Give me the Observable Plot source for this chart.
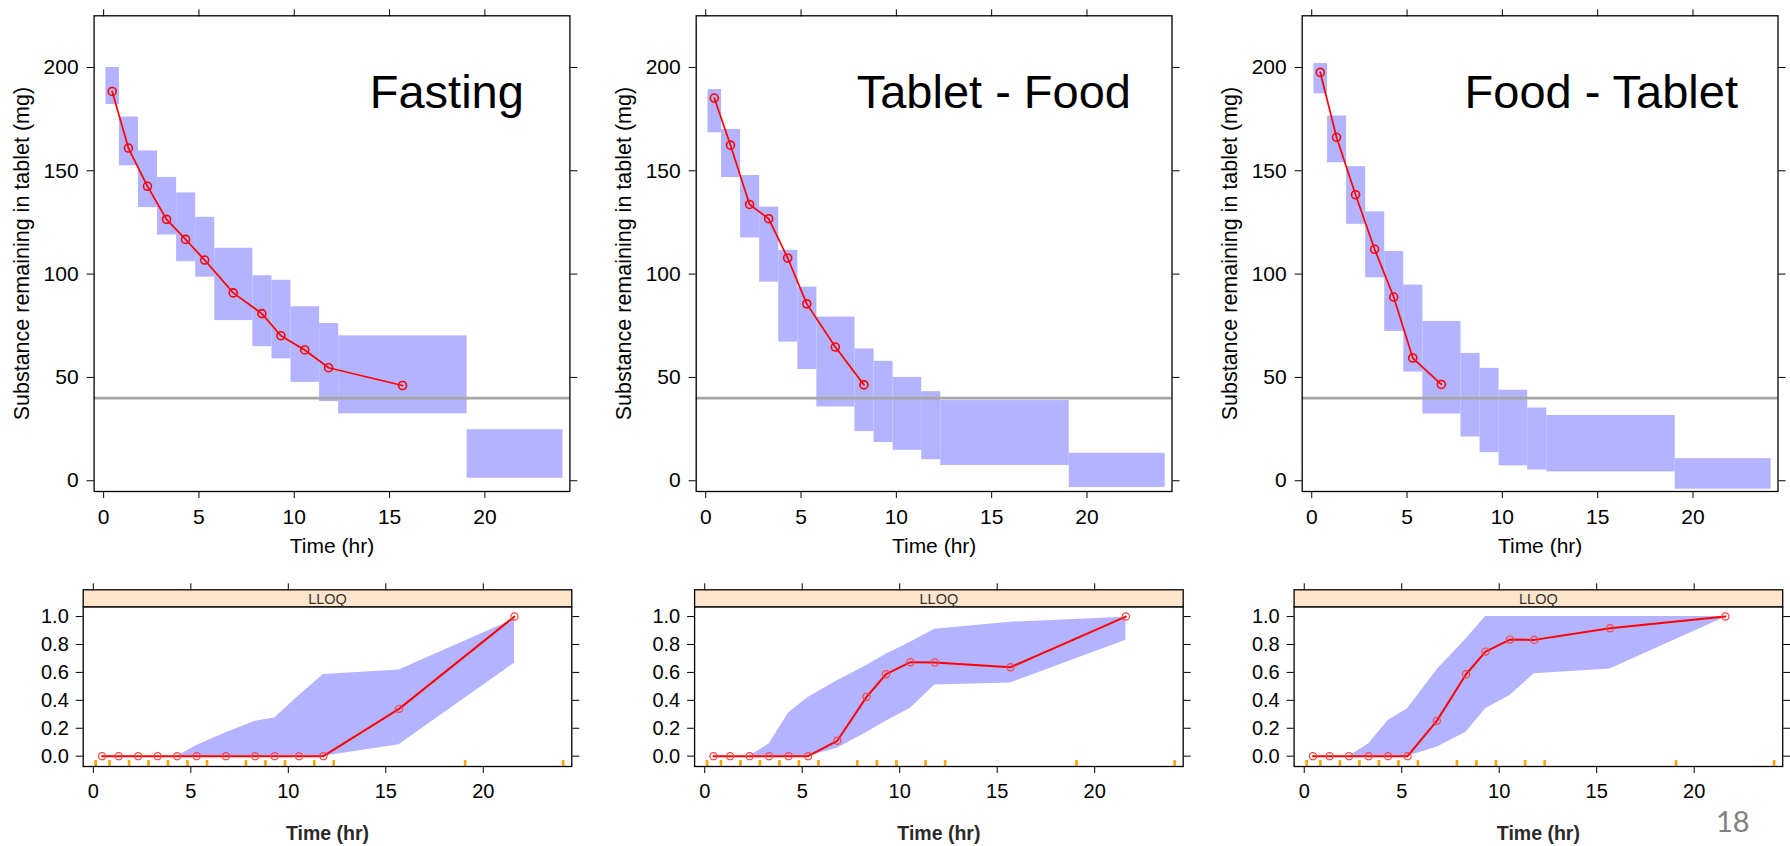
<!DOCTYPE html>
<html>
<head>
<meta charset="utf-8">
<script src="https://cdn.jsdelivr.net/npm/d3@7"></script>
<script src="https://cdn.jsdelivr.net/npm/@observablehq/plot@0.6"></script>
<style>
html, body { margin: 0; padding: 0; background: #ffffff; overflow: hidden; }
#root { position: relative; width: 1790px; height: 846px; }
#page { position: absolute; left: 1716px; top: 806px; font-family: Lato, "Open Sans", sans-serif; font-size: 29px; line-height: 1; color: #808080; }
</style>
</head>
<body>
<div id="root"><div id="page">18</div></div>
<script>
// ---------------- data ----------------
const panelNames = ["Fasting", "Tablet - Food", "Food - Tablet"];
const xLabel = "Time (hr)";
const yLabelTop = "Substance remaining in tablet (mg)";
const stripLabel = "LLOQ";
const pageNumber = "18";

const xTicks = [0, 5, 10, 15, 20];
const yTicksTop = [0, 50, 100, 150, 200];
const yTicksBottom = [0, 0.2, 0.4, 0.6, 0.8, 1.0];
const lloqLevel = 40;

// time-bin boundaries (hr)
const binEdges = [0.12, 0.83, 1.83, 2.83, 3.83, 4.83, 5.83, 7.83, 8.83, 9.83, 11.33, 12.33, 19.07, 24.1];
// observation time per bin (hr)
const obsTime = [0.45, 1.3, 2.3, 3.3, 4.3, 5.3, 6.8, 8.3, 9.3, 10.55, 11.8, 15.68, 21.6];

// top: observed median amount remaining (mg), only bins above LLOQ
const fastingMedian = [188.4, 161.0, 142.5, 126.5, 116.8, 106.8, 90.9, 80.9, 70.2, 63.3, 54.7, 46.1];
const tabletFoodMedian = [185.2, 162.4, 133.7, 126.8, 107.8, 85.6, 64.7, 46.4];
const foodTabletMedian = [197.6, 166.2, 138.4, 112.0, 88.9, 59.4, 46.6];

// top: simulated prediction interval per bin (mg)
const fastingPiHigh = [200.0, 176.0, 159.6, 146.8, 139.3, 127.5, 112.5, 99.2, 97.0, 84.2, 76.1, 70.1, 24.7];
const fastingPiLow = [182.1, 152.4, 132.2, 118.9, 106.0, 98.5, 77.5, 64.9, 59.0, 47.6, 38.3, 32.4, 1.2];
const tabletFoodPiHigh = [189.3, 170.0, 147.7, 132.4, 111.5, 93.7, 79.2, 63.8, 57.8, 50.0, 43.1, 38.8, 13.3];
const tabletFoodPiLow = [168.4, 146.7, 117.5, 96.1, 67.1, 53.8, 35.7, 23.8, 18.5, 14.7, 10.2, 7.4, -3.3];
const foodTabletPiHigh = [201.9, 176.5, 152.0, 130.1, 111.0, 94.7, 77.1, 61.6, 54.4, 43.8, 35.2, 31.6, 10.7];
const foodTabletPiLow = [187.2, 153.9, 124.1, 98.2, 72.3, 52.6, 32.3, 21.2, 13.6, 7.2, 5.2, 4.3, -4.1];

// bottom: fraction below LLOQ (observed) and simulated interval
const fastingBlqFrac = [0, 0, 0, 0, 0, 0, 0, 0, 0, 0, 0, 0.339, 1.0];
const fastingBlqHigh = [0, 0, 0, 0, 0, 0.076, 0.167, 0.25, 0.274, 0.433, 0.585, 0.618, 0.98];
const fastingBlqLow = [0, 0, 0, 0, 0, 0, 0, 0, 0, 0, 0, 0.081, 0.666];
const tabletFoodBlqFrac = [0, 0, 0, 0, 0, 0, 0.110, 0.425, 0.587, 0.673, 0.671, 0.637, 1.0];
const tabletFoodBlqHigh = [0, 0, 0, 0.088, 0.31, 0.42, 0.54, 0.65, 0.73, 0.816, 0.91, 0.96, 0.995];
const tabletFoodBlqLow = [0, 0, 0, 0, 0, 0, 0.057, 0.17, 0.25, 0.344, 0.51, 0.525, 0.83];
const foodTabletBlqFrac = [0, 0, 0, 0, 0, 0, 0.253, 0.587, 0.749, 0.835, 0.833, 0.916, 1.0];
const foodTabletBlqHigh = [0, 0, 0, 0.088, 0.255, 0.339, 0.618, 0.84, 1.0, 1.0, 1.0, 1.0, 1.0];
const foodTabletBlqLow = [0, 0, 0, 0, 0, 0, 0.064, 0.172, 0.339, 0.434, 0.59, 0.625, 0.995];

// ---------------- layout ----------------
const W = 1790;
const FONT = "'Liberation Sans', Arial, Helvetica, sans-serif";
const BLUE = "#B3B3FF";
const medians = [fastingMedian, tabletFoodMedian, foodTabletMedian];
const piHigh = [fastingPiHigh, tabletFoodPiHigh, foodTabletPiHigh];
const piLow = [fastingPiLow, tabletFoodPiLow, foodTabletPiLow];
const blqFrac = [fastingBlqFrac, tabletFoodBlqFrac, foodTabletBlqFrac];
const blqHigh = [fastingBlqHigh, tabletFoodBlqHigh, foodTabletBlqHigh];
const blqLow = [fastingBlqLow, tabletFoodBlqLow, foodTabletBlqLow];

const topLeft = [93.6, 695.7, 1301.7];
const titleDx = [-46, -41, -40];
const topFrameW = 475.8;
const topH = 575, topMT = 15.3, topMB = 84;
const botLeft = [82.7, 694.1, 1293.6];
const botFrameW = 488.6;
const botTop = 575, botH = 271, botMT = 31.3, botMB = 80;
const botFrameH = botH - botMT - botMB;

const root = document.getElementById("root");
function place(svg, top) {
  svg.style.position = "absolute";
  svg.style.left = "0px";
  svg.style.top = top + "px";
  root.appendChild(svg);
}
const blank = () => "";

function topPanel(i) {
  const bins = binEdges.slice(0, -1).map((x1, j) => ({x1, x2: binEdges[j + 1], lo: piLow[i][j], hi: piHigh[i][j]}));
  const med = medians[i].map((v, j) => ({t: obsTime[j], v}));
  return Plot.plot({
    width: W, height: topH,
    marginLeft: topLeft[i], marginRight: W - topLeft[i] - topFrameW, marginTop: topMT, marginBottom: topMB,
    x: {domain: [-0.5, 24.46], axis: null},
    y: {domain: [-5.2, 225], axis: null},
    style: {fontFamily: FONT, background: "transparent", color: "black", overflow: "visible"},
    marks: [
      Plot.rect(bins, {x1: "x1", x2: "x2", y1: "lo", y2: "hi", fill: BLUE}),
      Plot.ruleY([lloqLevel], {stroke: "#A6A6A6", strokeWidth: 2.6}),
      Plot.line(med, {x: "t", y: "v", stroke: "#FF0000", strokeWidth: 1.7}),
      Plot.dot(med, {x: "t", y: "v", r: 4, stroke: "#FF0000", strokeWidth: 1.6}),
      Plot.frame({stroke: "black", strokeWidth: 1.3}),
      Plot.axisX(xTicks, {anchor: "bottom", tickSize: 7, tickPadding: 11, fontSize: 21, label: null}),
      Plot.axisX(xTicks, {anchor: "top", tickSize: 7, tickFormat: blank, label: null}),
      Plot.axisY(yTicksTop, {anchor: "left", tickSize: 7, tickPadding: 8.5, fontSize: 21, label: null}),
      Plot.axisY(yTicksTop, {anchor: "right", tickSize: 7, tickFormat: blank, label: null}),
      Plot.text([xLabel], {text: d => d, frameAnchor: "bottom", dy: 55, lineAnchor: "middle", fontSize: 21}),
      Plot.text([yLabelTop], {text: d => d, frameAnchor: "left", dx: -72, rotate: -90, textAnchor: "middle", lineAnchor: "middle", fontSize: 21.5}),
      Plot.text([panelNames[i]], {text: d => d, frameAnchor: "top-right", dx: titleDx[i], dy: 91.7, textAnchor: "end", lineAnchor: "bottom", fontSize: 47})
    ]
  });
}

function bottomPanel(i) {
  const rows = obsTime.map((t, j) => ({t, f: blqFrac[i][j], lo: blqLow[i][j], hi: blqHigh[i][j]}));
  return Plot.plot({
    width: W, height: botH,
    marginLeft: botLeft[i], marginRight: W - botLeft[i] - botFrameW, marginTop: botMT, marginBottom: botMB,
    x: {domain: [-0.52, 24.54], axis: null},
    y: {domain: [-0.074, 1.07], axis: null},
    style: {fontFamily: FONT, background: "transparent", color: "black", overflow: "visible"},
    marks: [
      Plot.areaY(rows, {x: "t", y1: "lo", y2: "hi", fill: BLUE}),
      Plot.line(rows, {x: "t", y: "f", stroke: "#FF0000", strokeWidth: 2}),
      Plot.dot(rows, {x: "t", y: "f", r: 3.6, stroke: "#FF4040", strokeWidth: 1.2}),
      Plot.ruleX(binEdges, {stroke: "#FFA500", strokeWidth: 2.6, insetTop: botFrameH - 6}),
      Plot.frame({stroke: "black", strokeWidth: 1.3}),
      Plot.frame({fill: "#FFE5CC", stroke: "black", strokeWidth: 1.3, insetTop: -17, insetBottom: botFrameH}),
      Plot.text([stripLabel], {text: d => d, frameAnchor: "top", dy: -7.5, lineAnchor: "middle", fontSize: 14.5, fill: "#333333"}),
      Plot.axisX(xTicks, {anchor: "bottom", tickSize: 7, tickPadding: 10, fontSize: 20, label: null}),
      Plot.axisX(xTicks, {anchor: "top", tickSize: 7, dy: -17, tickFormat: blank, label: null}),
      Plot.axisY(yTicksBottom, {anchor: "left", tickSize: 7, tickPadding: 7.4, fontSize: 20, tickFormat: d3.format(".1f"), label: null}),
      Plot.axisY(yTicksBottom, {anchor: "right", tickSize: 7, tickFormat: blank, label: null}),
      Plot.text([xLabel], {text: d => d, frameAnchor: "bottom", dy: 67, lineAnchor: "middle", fontSize: 19.5, fontWeight: "bold", fill: "#2a2a2a"})
    ]
  });
}

for (let i = 0; i < 3; i++) {
  place(topPanel(i), 0);
  place(bottomPanel(i), botTop);
}
document.getElementById("page").textContent = pageNumber;
</script>
</body>
</html>
